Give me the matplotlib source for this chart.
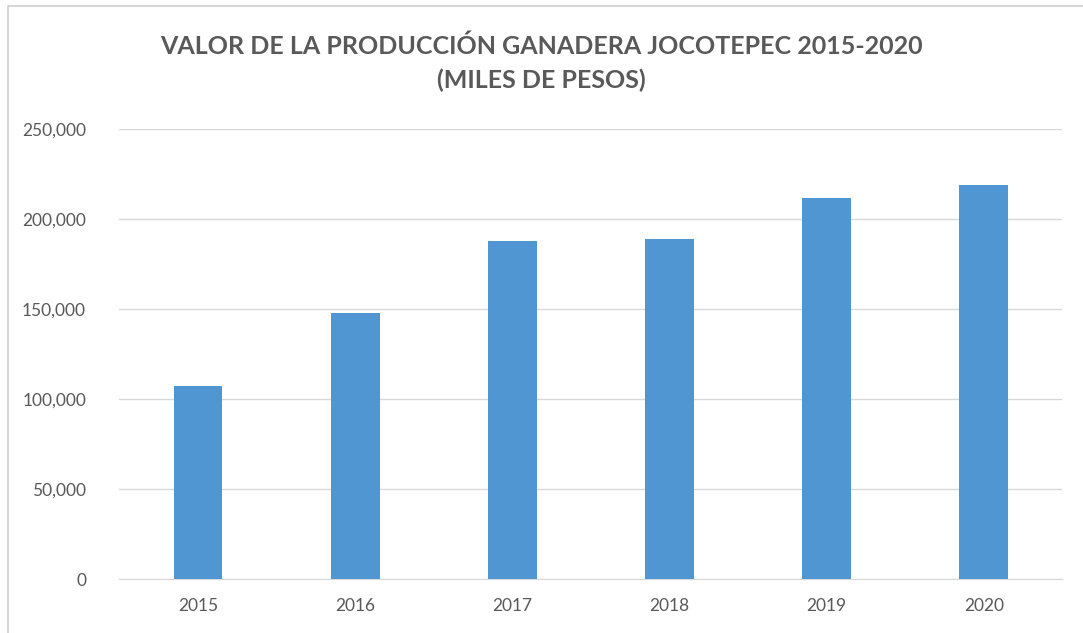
import matplotlib
matplotlib.use("Agg")
from matplotlib import pyplot as plt
from matplotlib.patches import Rectangle
from matplotlib.ticker import FuncFormatter

years = ['2015', '2016', '2017', '2018', '2019', '2020']
values = [107200, 147800, 187800, 188900, 211700, 218900]
y_ticks = [0, 50000, 100000, 150000, 200000, 250000]

text_color = '#595959'
bar_color = '#5096D2'
grid_color = '#D9D9D9'

fig = plt.figure(figsize=(10.83, 6.33), dpi=100)
ax = fig.add_axes([0.1103, 0.0853, 0.8707, 0.7109])

# chart frame (Excel-like border)
fig.patches.append(Rectangle((8 / 1083, -0.1), 1.2, (627 / 633) + 0.1,
                             transform=fig.transFigure, fill=False,
                             edgecolor='#D0D0D0', linewidth=1.2))

ax.bar(range(len(years)), values, width=0.31, color=bar_color, zorder=3)

ax.set_xlim(-0.5, len(years) - 0.5)
ax.set_ylim(0, 250000)
ax.set_yticks(y_ticks)
ax.yaxis.set_major_formatter(FuncFormatter(lambda v, p: f'{int(v):,}'))
ax.set_xticks(range(len(years)))
ax.set_xticklabels(years)

ax.grid(axis='y', color=grid_color, linewidth=1, zorder=0)
for side in ['top', 'right', 'left']:
    ax.spines[side].set_visible(False)
ax.spines['bottom'].set_color(grid_color)
ax.tick_params(axis='both', length=0, labelsize=12.5, colors=text_color)
ax.tick_params(axis='y', pad=24)
ax.tick_params(axis='x', pad=14)
for lbl in ax.get_xticklabels() + ax.get_yticklabels():
    lbl.set_family('Lato')

fig.text(0.5, 1 - 46 / 633, 'VALOR DE LA PRODUCCIÓN GANADERA JOCOTEPEC 2015-2020',
         ha='center', va='center', fontsize=18, fontweight='bold',
         color=text_color, family='Lato')
fig.text(0.5, 1 - 80 / 633, '(MILES DE PESOS)',
         ha='center', va='center', fontsize=18, fontweight='bold',
         color=text_color, family='Lato')

fig.savefig('out.png', dpi=100)
